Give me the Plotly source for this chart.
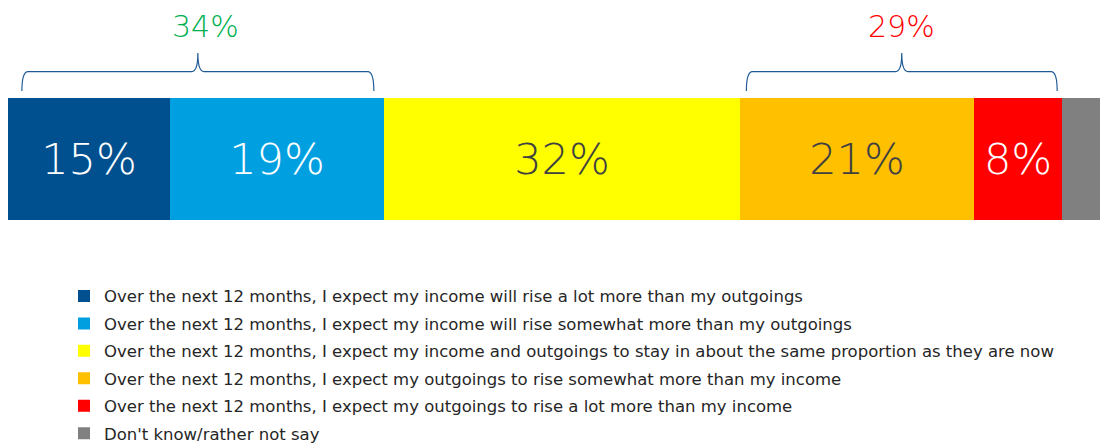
import plotly.graph_objects as go

categories = [
    "Over the next 12 months, I expect my income will rise a lot more than my outgoings",
    "Over the next 12 months, I expect my income will rise somewhat more than my outgoings",
    "Over the next 12 months, I expect my income and outgoings to stay in about the same proportion as they are now",
    "Over the next 12 months, I expect my outgoings to rise somewhat more than my income",
    "Over the next 12 months, I expect my outgoings to rise a lot more than my income",
    "Don't know/rather not say",
]
values = [14.6, 19.2, 32.0, 21.1, 7.9, 5.2]
value_labels = ["15%", "19%", "32%", "21%", "8%", ""]
colors = ["#00508F", "#009FE0", "#FFFF00", "#FFC000", "#FF0000", "#808080"]
text_colors = ["#FFFFFF", "#FFFFFF", "#404040", "#404040", "#FFFFFF", "#FFFFFF"]

# net groups: (first index, last index, label, colour)
net_groups = [(0, 1, "34%", "#00B050"), (3, 4, "29%", "#FF0000")]
# brace styling: inset from segment edges (left, right) and label shift in px
brace_insets = [(1.25, 0.9), (0.6, 0.45)]
label_xshift = [8, 0]

H = 443.0
fig = go.Figure()
for i, cat in enumerate(categories):
    fig.add_trace(go.Bar(
        x=[values[i]], y=["all"], orientation="h", name=cat,
        marker=dict(color=colors[i], line=dict(width=0)),
        text=[value_labels[i]], textposition="inside", insidetextanchor="middle",
        textfont=dict(family="DejaVu Sans ExtraLight, DejaVu Sans", size=43, color=text_colors[i], weight=200),
        constraintext="none", cliponaxis=True,
        legendgroup=str(i), hoverinfo="name+x",
    ))

cum = [0]
for v in values:
    cum.append(cum[-1] + v)

y_bottom, y_h, y_tip, y_text = 1 - 85 / H, 1 - 65 / H, 1 - 46 / H, 1 - 19 / H
d = 0.55
for k, (a, b, lab, col) in enumerate(net_groups):
    x0 = cum[a] + brace_insets[k][0]
    x1 = cum[b + 1] - brace_insets[k][1]
    m = (x0 + x1) / 2
    path = (f"M {x0},{y_bottom} Q {x0},{y_h} {x0 + d},{y_h} L {m - d},{y_h} "
            f"Q {m},{y_h} {m},{y_tip} Q {m},{y_h} {m + d},{y_h} L {x1 - d},{y_h} "
            f"Q {x1},{y_h} {x1},{y_bottom}")
    fig.add_shape(type="path", path=path, xref="x", yref="paper",
                  line=dict(color="#1F5A96", width=1.2))
    fig.add_annotation(x=m, y=y_text, xref="x", yref="paper", text=lab, showarrow=False,
                       xshift=label_xshift[k],
                       font=dict(family="DejaVu Sans ExtraLight, DejaVu Sans", size=30, color=col, weight=200),
                       xanchor="center", yanchor="middle")

fig.update_layout(
    width=1108, height=443,
    margin=dict(l=0, r=0, t=0, b=0),
    barmode="stack", bargap=0,
    paper_bgcolor="white", plot_bgcolor="white",
    showlegend=True,
    legend=dict(
        x=56 / 1108, xanchor="left", y=1 - 277 / H, yanchor="top",
        orientation="v", traceorder="grouped", tracegroupgap=3,
        font=dict(family="DejaVu Sans", size=16.5, color="#262626"),
        bgcolor="rgba(0,0,0,0)",
    ),
    xaxis=dict(range=[0, 99.64], visible=False, fixedrange=True),
    yaxis=dict(domain=[1 - 217 / H, 1 - 92 / H], visible=False, fixedrange=True),
)

fig.write_html("out.html")
